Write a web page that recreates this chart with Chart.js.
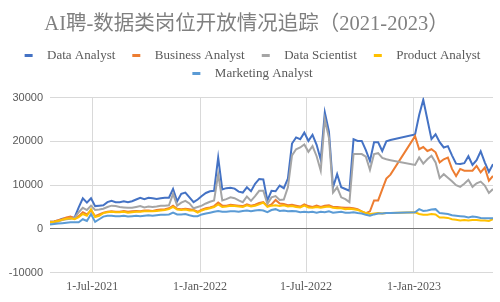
<!DOCTYPE html>
<html><head><meta charset="utf-8">
<script src="https://cdn.jsdelivr.net/npm/chart.js@4.4.0/dist/chart.umd.min.js"></script>
<style>html,body{margin:0;padding:0;background:#fff}canvas{display:block}</style>
</head><body>
<canvas id="c" width="500" height="302"></canvas>
<script>
const dates = ['2021-04-20','2021-04-27','2021-05-04','2021-05-11','2021-05-18','2021-05-25','2021-06-01','2021-06-08','2021-06-15','2021-06-22','2021-06-29','2021-07-06','2021-07-13','2021-07-20','2021-07-27','2021-08-03','2021-08-10','2021-08-17','2021-08-24','2021-08-31','2021-09-07','2021-09-14','2021-09-21','2021-09-28','2021-10-05','2021-10-12','2021-10-19','2021-10-26','2021-11-02','2021-11-09','2021-11-16','2021-11-23','2021-11-30','2021-12-07','2021-12-14','2021-12-21','2021-12-28','2022-01-04','2022-01-11','2022-01-18','2022-01-25','2022-02-01','2022-02-08','2022-02-15','2022-02-22','2022-03-01','2022-03-08','2022-03-15','2022-03-22','2022-03-29','2022-04-05','2022-04-12','2022-04-19','2022-04-26','2022-05-03','2022-05-10','2022-05-17','2022-05-24','2022-05-31','2022-06-07','2022-06-14','2022-06-21','2022-06-28','2022-07-05','2022-07-12','2022-07-19','2022-07-26','2022-08-02','2022-08-09','2022-08-16','2022-08-23','2022-08-30','2022-09-06','2022-09-13','2022-09-20','2022-09-27','2022-10-04','2022-10-11','2022-10-18','2022-10-25','2022-11-01','2022-11-08','2022-11-15','2022-11-22','2023-01-03','2023-01-10','2023-01-17','2023-01-24','2023-01-31','2023-02-07','2023-02-14','2023-02-21','2023-02-28','2023-03-07','2023-03-14','2023-03-21','2023-03-28','2023-04-04','2023-04-11','2023-04-18','2023-04-25','2023-05-02','2023-05-09','2023-05-16'];

const dataAnalyst = [1600,1700,1900,2300,2400,2600,2600,4900,7000,6000,
 7000,5200,5300,5400,6100,6400,6100,6100,6300,6100,
 6300,6700,7100,6800,7100,7000,6800,7000,7100,7100,
 9100,6300,8000,8300,7200,6100,6700,7500,8200,8600,
 8700,16300,9000,9300,9400,9200,8500,8300,9500,8600,
 10300,11400,11300,6500,8700,8600,9900,9300,11500,19500,
 20900,20500,22000,20100,21500,19200,15800,26600,22300,9500,
 12500,9500,9100,8700,20500,20100,20100,18000,15500,19800,
 19800,17800,20000,20300,21600,26000,29500,25000,20500,21600,
 19800,18600,18900,16800,14900,14800,15000,16600,14600,15700,
 17700,15200,13000,14800];

const businessAnalyst = [1600,1700,2000,2200,2600,2800,2400,2900,3800,3300,
 4200,2900,3300,3700,3900,4000,3900,3900,4100,3900,
 4000,4100,4000,4200,4200,4100,4300,4400,4500,4700,
 5300,4600,4500,4600,4500,4300,3900,4400,4700,4900,
 5200,6000,5300,5300,5500,5400,5300,5200,5600,5300,
 5500,5900,6100,5200,5600,6600,5800,5700,5400,5500,
 5300,5100,5600,5200,5000,5300,5000,5300,5400,5000,
 5000,4900,4800,4800,4700,4500,4000,3600,4000,6500,
 6500,9000,11500,12400,21200,18200,18700,17800,18200,17500,
 15200,15900,16300,13700,12100,13700,13300,13300,13300,14400,
 12900,14000,11000,12100];

const dataScientist = [1400,1500,1700,2000,2200,2300,2500,3800,4800,4300,
 5300,4300,4400,4600,5000,5300,5200,5000,4900,4800,
 4800,5000,5200,4900,5100,5000,5100,5300,5300,5400,
 8000,5300,6000,6400,5800,4700,5000,5300,5800,6200,
 6500,12500,6500,6800,7200,7000,6500,6100,7400,6400,
 7500,8700,8700,5700,7200,7500,6600,6700,9500,16800,
 18200,18600,19300,17600,18900,16600,13300,25000,20800,8300,
 9500,7200,6800,6100,17100,17100,17100,16500,13500,17100,
 17300,16200,15900,15700,14600,16300,14900,15900,16700,15200,
 11600,12500,11700,10900,10000,9600,10300,11200,9600,10400,
 10800,9900,8200,9100];

const productAnalyst = [1500,1600,1800,2100,2300,2400,2200,2700,3400,3000,
 4500,2700,3000,3600,3800,3900,3800,3800,3900,3700,
 3800,3900,3900,4000,4000,4000,4100,4200,4300,4500,
 5000,4400,4300,4400,4200,4200,3700,4200,4500,4700,
 5000,5600,5000,5100,5300,5200,5100,5000,5400,5100,
 5300,5600,6000,5000,5300,5400,5200,5400,5100,5200,
 5000,4900,5300,4900,4800,5000,4800,5000,5100,4800,
 4700,4700,4500,4600,4500,4300,4000,3600,3400,3500,
 3600,3500,3600,3600,3800,3400,3200,3200,3400,3300,
 2600,2600,2500,2200,2100,1900,2000,1900,2000,2000,
 1900,1900,1800,2200];

const marketingAnalyst = [1000,1100,1200,1300,1400,1500,1500,1500,2200,1800,
 3400,1600,2200,2800,3000,3000,2900,2900,3000,2800,
 2900,3000,2900,3000,3100,3000,3100,3200,3200,3300,
 3700,3300,3300,3400,3100,2900,2900,3300,3500,3700,
 3900,4100,3900,3900,4000,4000,3900,4100,4200,4000,
 4200,4300,4200,3800,4300,4500,4100,4200,4000,4100,
 4000,3800,3900,3800,3900,3700,3900,3800,4000,3700,
 3800,3900,3700,3700,3800,3600,3500,3200,3000,3300,
 3500,3500,3600,3600,3800,4500,4100,4200,4400,4500,
 3600,3500,3400,3100,3000,2900,2800,2600,2800,2700,
 2500,2400,2400,2400];

const seriesNames = ['Data Analyst','Business Analyst','Data Scientist','Product Analyst','Marketing Analyst'];
const seriesColors = ['#4472C4','#ED7D31','#A5A5A5','#FFC000','#5B9BD5'];
const seriesValues = [dataAnalyst, businessAnalyst, dataScientist, productAnalyst, marketingAnalyst];
const xTickDates = ['2021-07-01','2022-01-01','2022-07-01','2023-01-01'];
const xTickLabels = ['1-Jul-2021','1-Jan-2022','1-Jul-2022','1-Jan-2023'];
const chartTitle = 'AI聘-数据类岗位开放情况追踪（2021-2023）';

const toTime = s => Date.parse(s + 'T00:00:00Z');
const times = dates.map(toTime);

function markerImage(color) {
  const c = document.createElement('canvas');
  c.width = 28; c.height = 3;
  const g = c.getContext('2d');
  g.fillStyle = color;
  g.fillRect(12, 0, 8, 3);
  return c;
}
const markers = seriesColors.map(markerImage);

const datasets = seriesNames.map((name, i) => ({
  label: name,
  data: seriesValues[i].map((v, j) => ({ x: times[j], y: v })),
  borderColor: seriesColors[i],
  backgroundColor: seriesColors[i],
  borderWidth: 2,
  pointRadius: 0,
  tension: 0,
  order: seriesNames.length - i
}));

const legendSpacer = {
  id: 'legendSpacer',
  beforeInit(chart) {
    const orig = chart.legend.fit;
    chart.legend.fit = function () { orig.call(this); this.height += 8; };
  }
};

new Chart(document.getElementById('c'), {
  type: 'line',
  data: { datasets },
  plugins: [legendSpacer],
  options: {
    responsive: false,
    animation: false,
    devicePixelRatio: 1,
    layout: { padding: { top: 0, left: 0, right: 7, bottom: 1 } },
    plugins: {
      tooltip: { enabled: false },
      title: {
        display: true,
        text: chartTitle,
        color: '#808080',
        font: { family: "'Liberation Serif', 'Noto Sans CJK SC', serif", size: 20.5, weight: 'normal' },
        padding: { top: 12, bottom: 7 }
      },
      legend: {
        position: 'top',
        labels: {
          font: { family: "'Liberation Serif', serif", size: 13 },
          color: '#595959',
          usePointStyle: true,
          pointStyleWidth: 28,
          padding: 5,
          generateLabels(chart) {
            return chart.data.datasets.map((ds, i) => ({
              text: ds.label,
              fillStyle: ds.borderColor,
              strokeStyle: ds.borderColor,
              lineWidth: 0,
              pointStyle: markers[i],
              hidden: !chart.isDatasetVisible(i),
              datasetIndex: i,
              fontColor: '#595959'
            }));
          }
        }
      }
    },
    scales: {
      x: {
        type: 'linear',
        min: Math.min(...times),
        max: Math.max(...times),
        afterBuildTicks(scale) { scale.ticks = xTickDates.map(d => ({ value: toTime(d) })); },
        ticks: {
          autoSkip: false, maxRotation: 0, padding: 7,
          color: '#595959',
          font: { family: "'Liberation Serif', serif", size: 12 },
          callback: (v, i) => xTickLabels[i]
        },
        grid: { color: '#d9d9d9', drawTicks: false, lineWidth: 1 },
        border: { display: false }
      },
      y: {
        min: -10000, max: 30000,
        afterFit(scale) { scale.width = 50; },
        ticks: {
          stepSize: 10000, padding: 7,
          color: '#595959',
          font: { family: "'Liberation Sans', sans-serif", size: 11 },
          callback: v => String(v)
        },
        grid: {
          drawTicks: false,
          color: ctx => (ctx.tick && ctx.tick.value === 0) ? '#737373' : '#d9d9d9'
        },
        border: { display: false }
      }
    }
  }
});
</script>
</body></html>
